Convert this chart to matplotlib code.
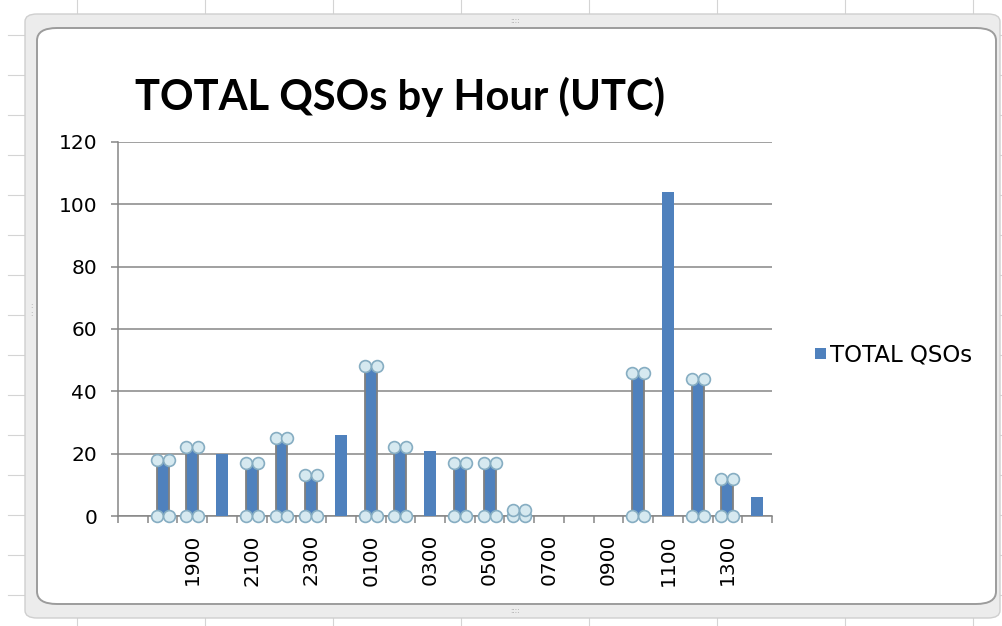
import matplotlib
matplotlib.use('Agg')
import matplotlib.pyplot as plt
from matplotlib.patches import FancyBboxPatch
from matplotlib.lines import Line2D
import numpy as np

hours = ['1700', '1800', '1900', '2000', '2100', '2200', '2300', '0000',
         '0100', '0200', '0300', '0400', '0500', '0600', '0700', '0800',
         '0900', '1000', '1100', '1200', '1300', '1400']
total_qsos = [0, 18, 22, 20, 17, 25, 13, 26, 48, 22, 21, 17, 17, 2,
              0, 0, 0, 46, 104, 44, 12, 6]
# bars that carry the round end markers in the original sheet
has_markers = [False, True, True, False, True, True, True, False,
               True, True, False, True, True, True, False, False,
               False, True, False, True, True, False]

W, H = 1002, 626
BAR_BLUE = '#4f81bd'
GRID_GRAY = '#868686'


def px(x, y):
    return x / W, 1 - y / H


fig = plt.figure(figsize=(W / 100, H / 100), dpi=100)
fig.patch.set_facecolor('white')

# spreadsheet cell lines behind the chart
for x in np.arange(77, W, 128):
    fig.add_artist(Line2D([x / W, x / W], [0, 1], color='#d4d4d4', lw=0.8,
                          zorder=-5))
for y in np.arange(35, H, 40):
    fig.add_artist(Line2D([8 / W, 1], [1 - y / H, 1 - y / H], color='#d4d4d4',
                          lw=0.8, zorder=-5))

# chart frame
x0, y0 = px(25, 618)
x1, y1 = px(1000, 14)
fig.add_artist(FancyBboxPatch((x0, y0), x1 - x0, y1 - y0,
                              boxstyle='round,pad=0,rounding_size=0.012',
                              transform=fig.transFigure, facecolor='#ececec',
                              edgecolor='#cfcfcf', lw=1.0, zorder=-4))
x0, y0 = px(37, 604)
x1, y1 = px(996, 28)
fig.add_artist(FancyBboxPatch((x0, y0), x1 - x0, y1 - y0,
                              boxstyle='round,pad=0,rounding_size=0.02',
                              transform=fig.transFigure, facecolor='white',
                              edgecolor='#9c9c9c', lw=1.4, zorder=-3))
for hx, hy in [(515, 21), (515, 611), (31, 310)]:
    fig.text(*px(hx, hy), '::::' if hx != 31 else ':\n:', fontsize=5,
             color='#a0a0a0', ha='center', va='center')

l, b = px(118, 516)
r, t = px(772, 142)
ax = fig.add_axes([l, b, r - l, t - b])
ax.set_facecolor('none')

x = np.arange(len(hours))
vals = np.array(total_qsos, dtype=float)
bw = 0.4
ax.bar(x, vals, width=bw, color=BAR_BLUE, zorder=3)

for xi, v, m in zip(x, vals, has_markers):
    if not m:
        continue
    for dx in (-bw / 2, bw / 2):
        ax.plot([xi + dx, xi + dx], [0, v], color='#808080', lw=1.3, zorder=4)
        ax.plot([xi + dx, xi + dx], [0, v], ls='none', marker='o', ms=8.5,
                mfc='#d6e9f0', mec='#86adc2', mew=1.2, zorder=5, clip_on=False)

ax.set_xlim(-0.5, len(hours) - 0.5)
ax.set_ylim(0, 120)
ax.set_yticks(np.arange(0, 121, 20))
ax.yaxis.grid(True, color=GRID_GRAY, lw=1.1)
ax.set_axisbelow(True)

label_idx = np.arange(2, len(hours), 2)
ax.set_xticks(label_idx)
ax.set_xticklabels([hours[i] for i in label_idx], rotation=90,
                   fontsize=14.5, family='DejaVu Sans')
ax.set_xticks(np.arange(-0.5, len(hours), 1), minor=True)
ax.tick_params(axis='x', which='major', length=0, pad=13)
ax.tick_params(axis='x', which='minor', length=5, width=1.1, color=GRID_GRAY)
ax.tick_params(axis='y', length=5, width=1.1, color=GRID_GRAY, pad=10,
               labelsize=14.5)
for tl in ax.get_yticklabels():
    tl.set_family('DejaVu Sans')

for side in ('top', 'right'):
    ax.spines[side].set_visible(False)
for side in ('left', 'bottom'):
    ax.spines[side].set_color(GRID_GRAY)
    ax.spines[side].set_linewidth(1.1)

fig.text(*px(400, 97), 'TOTAL QSOs by Hour (UTC)', fontsize=30,
         fontweight='bold', family='Lato', ha='center', va='center')

# legend
sx, sy = px(815, 348)
fig.add_artist(FancyBboxPatch((sx, sy - 11 / H), 11 / W, 11 / H,
                              boxstyle='square,pad=0', transform=fig.transFigure,
                              facecolor=BAR_BLUE, edgecolor='none'))
fig.text(*px(830, 355), 'TOTAL QSOs', fontsize=16.5, family='DejaVu Sans',
         ha='left', va='center')

fig.savefig('out.png', dpi=100)
